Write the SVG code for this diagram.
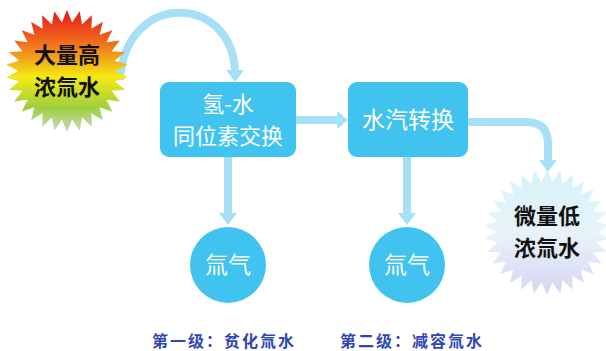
<svg xmlns="http://www.w3.org/2000/svg" width="606" height="351" viewBox="0 0 606 351">
<style>
.box{fill:#41c3f0}
.wt{fill:#ffffff;font-family:"Noto Sans CJK SC","Noto Sans",sans-serif;font-size:23px;text-anchor:middle}
.wt2{fill:#ffffff;font-family:"Noto Sans CJK SC","Noto Sans",sans-serif;font-size:22px;text-anchor:middle}
.bt{fill:#111111;font-family:"Noto Sans CJK SC","Noto Sans",sans-serif;font-size:22px;font-weight:bold;text-anchor:middle}
.lt{fill:#2f47b3;font-family:"Noto Sans CJK SC","Noto Sans",sans-serif;font-size:16px;font-weight:bold;letter-spacing:2px}
.con{fill:none;stroke:#a6e0f6;stroke-width:8}
.head{fill:#a6e0f6}
</style>
<defs>
<linearGradient id="hot" x1="0" y1="0" x2="0" y2="1">
<stop offset="0" stop-color="#e5151b"/>
<stop offset="0.3" stop-color="#f27a1c"/>
<stop offset="0.55" stop-color="#f4ea12"/>
<stop offset="0.8" stop-color="#9fcf3f"/>
<stop offset="1" stop-color="#c9d9c0"/>
</linearGradient>
<linearGradient id="cool" x1="0" y1="0" x2="0" y2="1">
<stop offset="0" stop-color="#d3f3f9"/>
<stop offset="0.5" stop-color="#e8f3f9"/>
<stop offset="1" stop-color="#d4d6f2"/>
</linearGradient>
<path id="star" d="M80,0 L99.5,10.5 78.2,16.6 95.1,30.9 73.1,32.5 86.6,50 64.7,47 74.3,66.9 53.5,59.4 58.8,80.9 40,69.3 40.7,91.4 24.7,76.1 20.8,97.8 8.4,79.6 0,100 -8.4,79.6 -20.8,97.8 -24.7,76.1 -40.7,91.4 -40,69.3 -58.8,80.9 -53.5,59.4 -74.3,66.9 -64.7,47 -86.6,50 -73.1,32.5 -95.1,30.9 -78.2,16.6 -99.5,10.5 -80,0 -99.5,-10.5 -78.2,-16.6 -95.1,-30.9 -73.1,-32.5 -86.6,-50 -64.7,-47 -74.3,-66.9 -53.5,-59.4 -58.8,-80.9 -40,-69.3 -40.7,-91.4 -24.7,-76.1 -20.8,-97.8 -8.4,-79.6 0,-100 8.4,-79.6 20.8,-97.8 24.7,-76.1 40.7,-91.4 40,-69.3 58.8,-80.9 53.5,-59.4 74.3,-66.9 64.7,-47 86.6,-50 73.1,-32.5 95.1,-30.9 78.2,-16.6 99.5,-10.5 Z"/>
</defs>

<g id="connectors">
<path class="con" d="M120,80 C125,-8 230,-8 235,70" stroke-width="7"/>
<polygon class="head" points="226,70 244,70 235,82"/>
<path class="con" d="M296,120 H338"/>
<polygon class="head" points="337,111 337,129 348,120"/>
<path class="con" d="M468,122 H526 Q548,122 548,144 V161"/>
<polygon class="head" points="539,160 557,160 548,172"/>
<path class="con" d="M228,157 V214"/>
<polygon class="head" points="219,213 237,213 228,225"/>
<path class="con" d="M407,157 V214"/>
<polygon class="head" points="398,213 416,213 407,225"/>
</g>

<g id="source">
<use href="#star" transform="translate(67,71) scale(0.61)" fill="url(#hot)"/>
<text class="bt" x="67" y="63">大量高</text>
<text class="bt" x="67" y="95">浓氚水</text>
</g>

<g id="exchange">
<rect class="box" x="160" y="82" width="136" height="75" rx="9"/>
<text class="wt2" x="228" y="112">氢-水</text>
<text class="wt2" x="228" y="144">同位素交换</text>
</g>

<g id="vapor">
<rect class="box" x="348" y="82" width="120" height="75" rx="9"/>
<text class="wt" x="408" y="128">水汽转换</text>
</g>

<g id="gas1">
<circle class="box" cx="228" cy="265" r="38"/>
<text class="wt" x="228" y="273">氚气</text>
</g>

<g id="gas2">
<circle class="box" cx="407" cy="265" r="38"/>
<text class="wt" x="407" y="273">氚气</text>
</g>

<g id="product">
<use href="#star" transform="translate(547,232) scale(0.63)" fill="url(#cool)"/>
<text class="bt" x="547" y="224">微量低</text>
<text class="bt" x="547" y="256">浓氚水</text>
</g>

<g id="labels">
<text class="lt" x="152" y="347">第一级：贫化氚水</text>
<text class="lt" x="340" y="347">第二级：减容氚水</text>
</g>
</svg>
